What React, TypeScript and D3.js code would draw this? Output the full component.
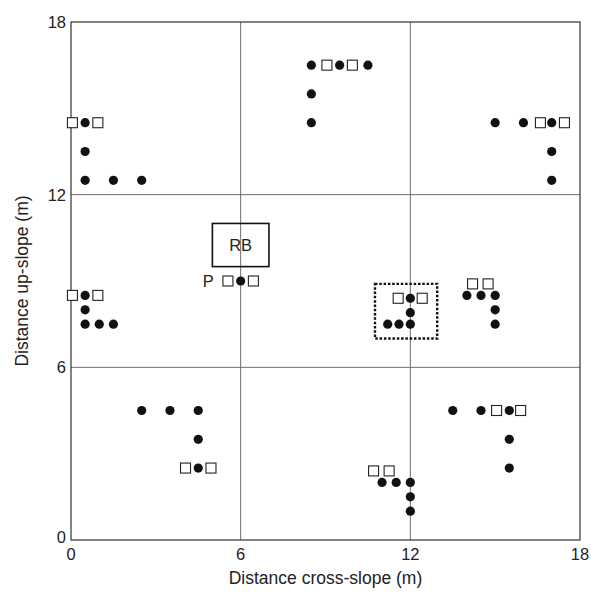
import React, { useEffect, useRef } from 'react';
import * as d3 from 'd3';

// plot points (metres)
const dotX = [0.5, 0.5, 0.5, 1.5, 2.5, 8.5, 9.5, 10.5, 8.5, 8.5, 15, 16, 17, 17, 17, 0.5, 0.5, 0.5, 1.0, 1.5, 6, 12, 12, 11.2, 11.6, 12, 14, 14.5, 15, 15, 15, 2.5, 3.5, 4.5, 4.5, 4.5, 11, 11.5, 12, 12, 12, 13.5, 14.5, 15.5, 15.5, 15.5];
const dotY = [14.5, 13.5, 12.5, 12.5, 12.5, 16.5, 16.5, 16.5, 15.5, 14.5, 14.5, 14.5, 14.5, 13.5, 12.5, 8.5, 8, 7.5, 7.5, 7.5, 9, 8.4, 7.9, 7.5, 7.5, 7.5, 8.5, 8.5, 8.5, 8, 7.5, 4.5, 4.5, 4.5, 3.5, 2.5, 2, 2, 2, 1.5, 1, 4.5, 4.5, 4.5, 3.5, 2.5];
const squareX = [0.05, 0.95, 9.05, 9.95, 16.6, 17.45, 0.05, 0.95, 5.55, 6.45, 11.57, 12.42, 14.2, 14.75, 4.05, 4.95, 10.7, 11.25, 15.05, 15.9];
const squareY = [14.5, 14.5, 16.5, 16.5, 14.5, 14.5, 8.5, 8.5, 9, 9, 8.4, 8.4, 8.9, 8.9, 2.5, 2.5, 2.4, 2.4, 4.5, 4.5];
const ticks = [0, 6, 12, 18];
const rbBox = [5, 9.5, 7, 11]; // x0, y0, x1, y1
const plotBox = [10.75, 7, 12.95, 8.9];

const App = () => {
  const svgRef = useRef<SVGSVGElement>(null);

  useEffect(() => {
    document.body.style.margin = '0';
    const svg = d3.select(svgRef.current);
    svg.selectAll('*').remove();

    const left = 71, right = 580, top = 22, bottom = 540;
    const x = d3.scaleLinear().domain([0, 18]).range([left, right]);
    const y = d3.scaleLinear().domain([0, 18]).range([bottom, top]);
    const font = 'Liberation Sans, Arial, sans-serif';

    // grid
    svg.append('g')
      .selectAll('line')
      .data([6, 12])
      .enter()
      .append('line')
      .attr('x1', d => x(d)).attr('x2', d => x(d))
      .attr('y1', top).attr('y2', bottom)
      .attr('stroke', '#6e6e6e').attr('stroke-width', 1);
    svg.append('g')
      .selectAll('line')
      .data([6, 12])
      .enter()
      .append('line')
      .attr('y1', d => y(d)).attr('y2', d => y(d))
      .attr('x1', left).attr('x2', right)
      .attr('stroke', '#6e6e6e').attr('stroke-width', 1);

    // frame
    svg.append('rect')
      .attr('x', left).attr('y', top)
      .attr('width', right - left).attr('height', bottom - top)
      .attr('fill', 'none').attr('stroke', '#333').attr('stroke-width', 1.2);

    // tick labels
    svg.append('g')
      .selectAll('text')
      .data(ticks)
      .enter()
      .append('text')
      .attr('x', d => x(d)).attr('y', bottom + 20)
      .attr('text-anchor', 'middle')
      .attr('font-family', font).attr('font-size', 16.5).attr('fill', '#222')
      .text(d => d);
    svg.append('g')
      .selectAll('text')
      .data(ticks)
      .enter()
      .append('text')
      .attr('x', left - 5).attr('y', d => y(d) + (d === 0 ? 3 : 6))
      .attr('text-anchor', 'end')
      .attr('font-family', font).attr('font-size', 16.5).attr('fill', '#222')
      .text(d => d);

    // axis titles
    svg.append('text')
      .attr('x', (left + right) / 2).attr('y', 584)
      .attr('text-anchor', 'middle')
      .attr('font-family', font).attr('font-size', 17.5).attr('fill', '#222')
      .text('Distance cross-slope (m)');
    svg.append('text')
      .attr('transform', `translate(28, ${(top + bottom) / 2}) rotate(-90)`)
      .attr('text-anchor', 'middle')
      .attr('font-family', font).attr('font-size', 17.5).attr('fill', '#222')
      .text('Distance up-slope (m)');

    // RB box
    svg.append('rect')
      .attr('x', x(rbBox[0])).attr('y', y(rbBox[3]))
      .attr('width', x(rbBox[2]) - x(rbBox[0]))
      .attr('height', y(rbBox[1]) - y(rbBox[3]))
      .attr('fill', 'none').attr('stroke', '#111').attr('stroke-width', 1.6);
    svg.append('text')
      .attr('x', x(6)).attr('y', y(10.25) + 6)
      .attr('text-anchor', 'middle')
      .attr('font-family', font).attr('font-size', 16.5).attr('fill', '#222')
      .text('RB');
    svg.append('text')
      .attr('x', x(4.85)).attr('y', y(9) + 6)
      .attr('text-anchor', 'middle')
      .attr('font-family', font).attr('font-size', 16.5).attr('fill', '#222')
      .text('P');

    // dashed plot box
    svg.append('rect')
      .attr('x', x(plotBox[0])).attr('y', y(plotBox[3]))
      .attr('width', x(plotBox[2]) - x(plotBox[0]))
      .attr('height', y(plotBox[1]) - y(plotBox[3]))
      .attr('fill', 'none').attr('stroke', '#111').attr('stroke-width', 2.4)
      .attr('stroke-dasharray', '2.5,1.8');

    // squares
    const s = 10;
    svg.append('g')
      .selectAll('rect')
      .data(squareX.map((v, i) => [v, squareY[i]]))
      .enter()
      .append('rect')
      .attr('x', d => x(d[0]) - s / 2).attr('y', d => y(d[1]) - s / 2)
      .attr('width', s).attr('height', s)
      .attr('fill', 'white').attr('stroke', '#222').attr('stroke-width', 1.1);

    // dots
    svg.append('g')
      .selectAll('circle')
      .data(dotX.map((v, i) => [v, dotY[i]]))
      .enter()
      .append('circle')
      .attr('cx', d => x(d[0])).attr('cy', d => y(d[1]))
      .attr('r', 4.6)
      .attr('fill', '#111');
  }, []);

  return (
    <svg ref={svgRef} width={591} height={592} style={{ display: 'block', background: 'white' }} />
  );
};

export default App;
